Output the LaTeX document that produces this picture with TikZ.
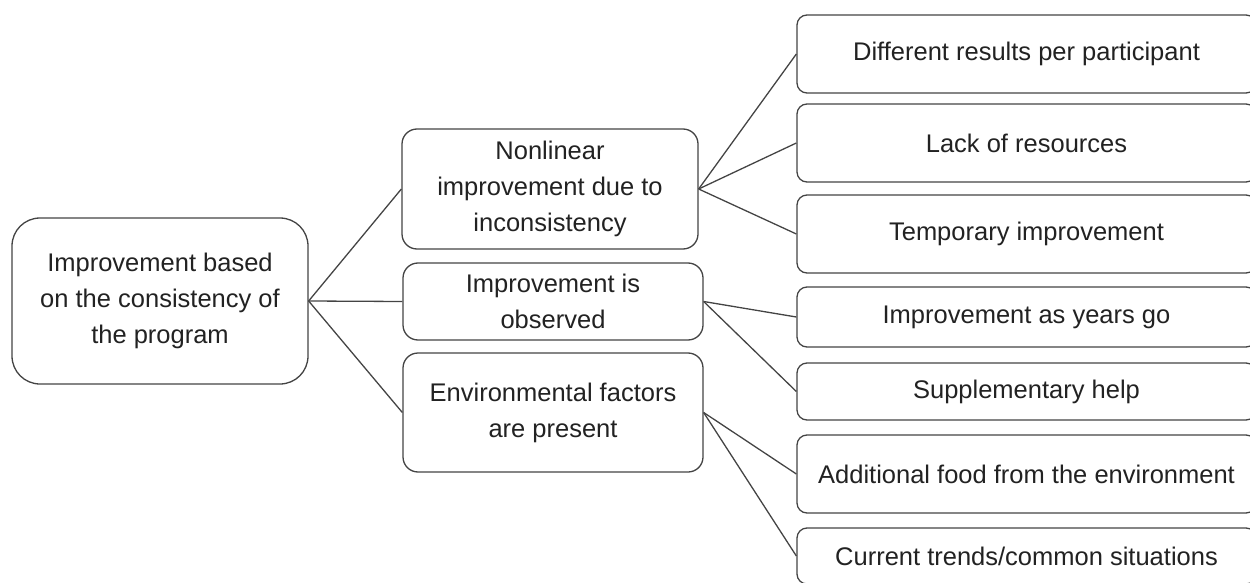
\documentclass[tikz,border=0pt]{standalone}
\usepackage{fontspec}
\setmainfont{Liberation Sans}
\begin{document}
\begin{tikzpicture}[x=1pt,y=-1pt,
  box/.style={draw={rgb,255:red,68;green,68;blue,68}, line width=1.3pt, fill=white,
    text={rgb,255:red,34;green,34;blue,34}, align=center, inner sep=0pt,
    font=\fontsize{25.5}{36}\selectfont},
  rootbox/.style={box, rounded corners=28pt},
  midbox/.style={box, rounded corners=15pt},
  leafbox/.style={box, rounded corners=10pt, minimum width=459pt},
  link/.style={draw={rgb,255:red,68;green,68;blue,68}, line width=1.3pt}]
\useasboundingbox (0,0) rectangle (1250,583);
\clip (0,0) rectangle (1250,583);

% root
\node[rootbox, minimum width=296pt, minimum height=166pt] (root) at (160,301)
  {Improvement based\\on the consistency of\\the program};

% second level
\node[midbox, minimum width=296pt, minimum height=120pt] (nonlin) at (550,189)
  {Nonlinear\\improvement due to\\inconsistency};
\node[midbox, minimum width=300pt, minimum height=77pt] (observed) at (553,301.5)
  {Improvement is\\observed};
\node[midbox, minimum width=300pt, minimum height=119pt] (envir) at (553,412.5)
  {Environmental factors\\are present};

% third level
\node[leafbox, minimum height=78pt] (r1) at (1026.5,54) {Different results per participant};
\node[leafbox, minimum height=78pt] (r2) at (1026.5,143) {Lack of resources};
\node[leafbox, minimum height=78pt] (r3) at (1026.5,234) {Temporary improvement};
\node[leafbox, minimum height=60pt] (r4) at (1026.5,317) {Improvement as years go};
\node[leafbox, minimum height=57pt] (r5) at (1026.5,391.5) {Supplementary help};
\node[leafbox, minimum height=78pt] (r6) at (1026.5,474) {Additional food from the environment};
\node[leafbox, minimum height=56pt] (r7) at (1026.5,556) {Current trends/common situations};

% connectors
\draw[link] (root.east) -- (nonlin.west);
\draw[link] (root.east) -- (observed.west);
\draw[link] (root.east) -- (envir.west);
\draw[link] (nonlin.east) -- (r1.west);
\draw[link] (nonlin.east) -- (r2.west);
\draw[link] (nonlin.east) -- (r3.west);
\draw[link] (observed.east) -- (r4.west);
\draw[link] (observed.east) -- (r5.west);
\draw[link] (envir.east) -- (r6.west);
\draw[link] (envir.east) -- (r7.west);
\end{tikzpicture}
\end{document}
